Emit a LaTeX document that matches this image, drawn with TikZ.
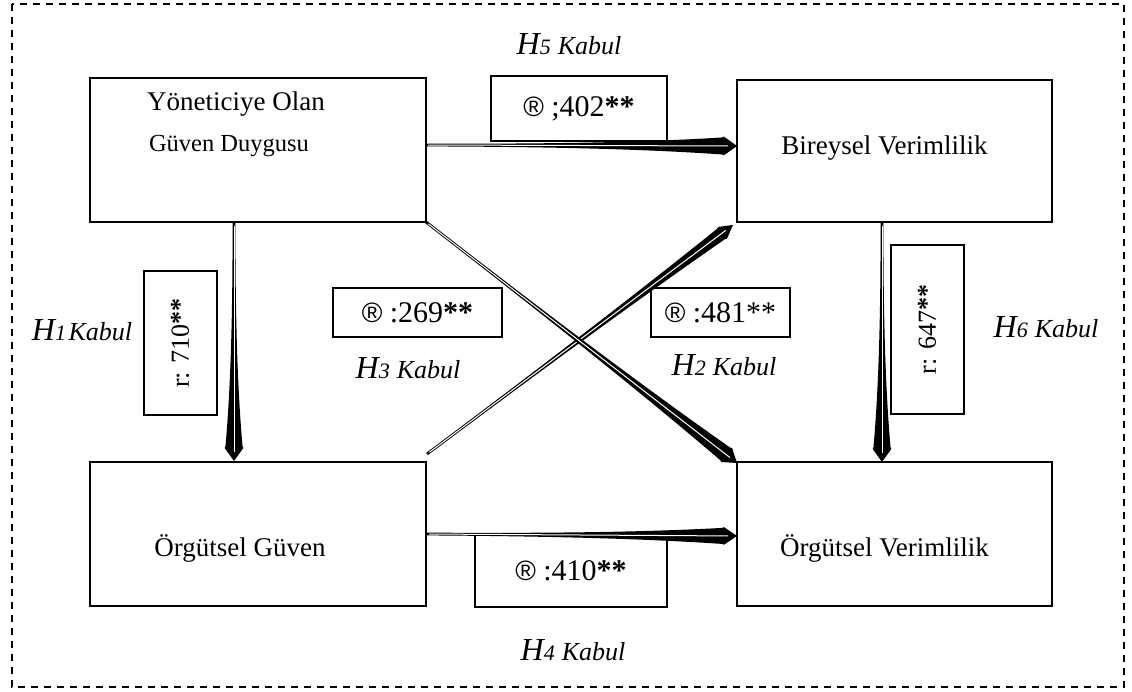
\documentclass[tikz,border=0pt]{standalone}
\usepackage{fontspec}
\setmainfont{Liberation Serif}
\newfontfamily\rsans{Liberation Sans}
\usetikzlibrary{calc}
\newcommand\regm{{\rsans\fontsize{28}{30}\selectfont ®}}
\newcommand\wedgearr[3]{%
  \coordinate (ws) at (#1);
  \coordinate (we) at (#2);
  \coordinate (wa) at ($(we)!15pt!(ws)$);
  \coordinate (wb) at ($(we)!13pt!(ws)$);
  \coordinate (wc1) at ($(ws)!0.35!(wa)$);
  \coordinate (wc2) at ($(ws)!0.7!(wa)$);
  \fill ($(ws)!1.4pt!90:(we)$) .. controls ($(wc1)!1.4pt!90:(we)$) and ($(wc2)!2.6pt!90:(we)$) .. ($(wa)!#3!90:(we)$) -- ($(wb)!#3+0.8pt!90:(we)$) -- (we) -- ($(wb)!#3+0.8pt!-90:(we)$) -- ($(wa)!#3!-90:(we)$) .. controls ($(wc2)!2.6pt!-90:(we)$) and ($(wc1)!1.4pt!-90:(we)$) .. ($(ws)!1.4pt!-90:(we)$) -- cycle;
  \draw[white, line width=1pt] ($(ws)!3pt!(we)$) -- ($(we)!9pt!(ws)$);
}
\tikzset{
  bigbox/.style={draw, line width=1.4pt, inner sep=0pt, outer sep=0pt},
  valbox/.style={draw, line width=1.4pt, inner sep=0pt, outer sep=0pt, font=\fontsize{30}{32}\selectfont},
  rotbox/.style={draw, line width=1.4pt, inner sep=0pt, outer sep=0pt, font=\fontsize{26}{28}\selectfont},
  title/.style={font=\fontsize{27}{30}\selectfont, inner sep=0pt},
  hyp/.style={inner sep=0pt},
}
\newcommand\hk[2][0.7em]{{\fontsize{32}{34}\selectfont\itshape H}{\fontsize{22}{24}\selectfont\itshape #2}\hspace{#1}{\fontsize{26}{28}\selectfont\itshape Kabul}}
\begin{document}
\begin{tikzpicture}[x=1pt,y=-1pt]
\useasboundingbox (0,0) rectangle (1132,691);
\draw[line width=1.6pt, dash pattern=on 7pt off 6pt] (12,4) rectangle (1124,687);
% main boxes
\node[bigbox, minimum width=336pt, minimum height=144pt] (yon) at (258,150) {};
\node[bigbox, minimum width=315pt, minimum height=142pt] (bir) at (894.5,151) {};
\node[bigbox, minimum width=336pt, minimum height=144pt] (org) at (258,534) {};
\node[bigbox, minimum width=315pt, minimum height=144pt] (orv) at (894.5,534) {};
\node[title] (t1a) at ($(yon.center)+(-22,-46)$) {Yöneticiye Olan};
\node[title, font=\fontsize{24.5}{26}\selectfont] (t1b) at ($(yon.center)+(-29,-4)$) {Güven Duygusu};
\node[title] (t2) at ($(bir.center)+(-10,-3)$) {Bireysel Verimlilik};
\node[title] (t3) at ($(org.center)+(-18,14)$) {Örgütsel Güven};
\node[title] (t4) at ($(orv.center)+(-10,14)$) {Örgütsel Verimlilik};
% value boxes
\node[valbox, minimum width=176pt, minimum height=65pt] (b5) at (579,108.5) {\regm\ ;402\textbf{**}};
\node[rotbox, minimum width=73pt, minimum height=144pt] (b1) at (180.5,343) {\rotatebox{90}{r: 710\textbf{**}}};
\node[valbox, minimum width=169pt, minimum height=49pt] (b3) at (417.5,312.5) {\regm\ :269\textbf{**}};
\node[valbox, minimum width=139pt, minimum height=49pt] (b2) at (720.5,312.5) {\regm\ :481**};
\node[rotbox, minimum width=73pt, minimum height=169pt] (b6) at (927.5,329.5) {\rotatebox{90}{r: 647\textbf{**}}};
\node[valbox, minimum width=192pt, minimum height=73pt] (b4) at (571,570.5) {\regm\ :410\textbf{**}};
% hypothesis labels
\node[hyp] (h5) at (569,44) {\hk{5}};
\node[hyp] (h1) at (82,330) {\hk[0.25em]{1}};
\node[hyp] (h3) at (408,368) {\hk{3}};
\node[hyp] (h2) at (724,365) {\hk{2}};
\node[hyp] (h6) at (1046,327) {\hk{6}};
\node[hyp] (h4) at (573,650) {\hk{4}};
% connector end points
\coordinate (h5s) at ($(yon.east)+(-1,-5)$);
\coordinate (h5e) at ($(bir.west)+(0,-5)$);
\coordinate (h4s) at ($(org.east)+(0,0)$);
\coordinate (h4e) at ($(orv.west)+(0,2)$);
\coordinate (h1s) at ($(yon.south)+(-24,1)$);
\coordinate (h1e) at ($(org.north)+(-24,-1)$);
\coordinate (h6s) at ($(bir.south)+(-12.5,1)$);
\coordinate (h6e) at ($(orv.north)+(-12.5,0)$);
\coordinate (h3s) at ($(org.north east)+(1,-8)$);
\coordinate (h3e) at ($(bir.south west)+(-4,3)$);
\coordinate (h2s) at ($(yon.south east)+(0,0)$);
\coordinate (h2e) at ($(orv.north west)+(0,1)$);
% connectors
\wedgearr{h5s}{h5e}{8.5pt}
\wedgearr{h4s}{h4e}{8pt}
\wedgearr{h1s}{h1e}{8.5pt}
\wedgearr{h6s}{h6e}{8.5pt}
\wedgearr{h3s}{h3e}{6.5pt}
\wedgearr{h2s}{h2e}{8pt}
\end{tikzpicture}
\end{document}
